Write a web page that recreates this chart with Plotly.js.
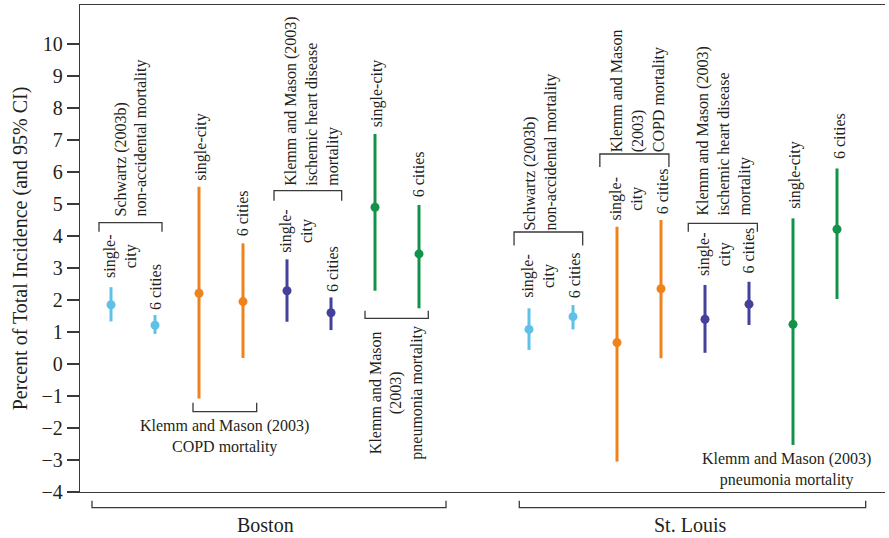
<!DOCTYPE html>
<html>
<head>
<meta charset="utf-8">
<script src="https://cdn.plot.ly/plotly-3.0.1.min.js"></script>
<style>html,body{margin:0;padding:0;background:#fff;}#chart{width:889px;height:538px;}</style>
</head>
<body>
<div id="chart"></div>
<script>
// ---- data (percent of total incidence, with 95% CI) ----
const cities = ["Boston", "St. Louis"];
const studyColors = ["#5fc1e8", "#f0821c", "#43419a", "#13924a"];
const pointLabels = ["single-<br>city", "6 cities", "single-city", "6 cities", "single-<br>city", "6 cities", "single-city", "6 cities"];
const stlPointLabels = ["single-<br>city", "6 cities", "single-<br>city", "6 cities", "single-<br>city", "6 cities", "single-city", "6 cities"];

const bostonEst  = [1.85, 1.21, 2.21, 1.95, 2.29, 1.60, 4.90, 3.44];
const bostonLow  = [1.33, 0.94, -1.08, 0.19, 1.32, 1.06, 2.29, 1.74];
const bostonHigh = [2.40, 1.53, 5.54, 3.77, 3.27, 2.08, 7.19, 4.97];

const stlEst  = [1.08, 1.48, 0.67, 2.35, 1.40, 1.87, 1.24, 4.21];
const stlLow  = [0.44, 1.08, -3.05, 0.18, 0.35, 1.22, -2.53, 2.03];
const stlHigh = [1.74, 1.84, 4.29, 4.50, 2.47, 2.57, 4.55, 6.11];

const yTicks = [-4, -3, -2, -1, 0, 1, 2, 3, 4, 5, 6, 7, 8, 9, 10];

// ---- build traces ----
const xB = bostonEst.map((_, i) => i + 1);
const xS = stlEst.map((_, i) => i + 10.5);
const traces = [];
for (let s = 0; s < 4; s++) {
  const idx = [2 * s, 2 * s + 1];
  const x = [], y = [], up = [], dn = [];
  idx.forEach(i => { x.push(xB[i]); y.push(bostonEst[i]); up.push(bostonHigh[i] - bostonEst[i]); dn.push(bostonEst[i] - bostonLow[i]); });
  idx.forEach(i => { x.push(xS[i]); y.push(stlEst[i]); up.push(stlHigh[i] - stlEst[i]); dn.push(stlEst[i] - stlLow[i]); });
  traces.push({
    type: "scatter", mode: "markers", x: x, y: y,
    marker: { color: studyColors[s], size: 9 },
    error_y: { type: "data", symmetric: false, array: up, arrayminus: dn, color: studyColors[s], thickness: 3, width: 0 },
    showlegend: false, hoverinfo: "skip", cliponaxis: false
  });
}

const txt = "#231f20";
const F = "'Liberation Serif', 'Times New Roman', serif";
const ann = [];
function lab(text, x, y, opts) {
  ann.push(Object.assign({ text: text, x: x, y: y, xref: "x", yref: "y", showarrow: false, textangle: -90,
    font: { family: F, size: 16, color: txt }, xanchor: "center", yanchor: "middle", align: "center" }, opts || {}));
}
// individual point labels
const bLabPos = [[1.205, 3.375], [2.023, 2.41], [3.04, 6.78], [4.007, 4.72], [5.227, 4.16], [6.03, 2.98], [7.05, 8.47], [8.007, 5.94]];
const sLabPos = [[10.70, 2.75], [11.52, 2.77], [12.72, 5.16], [13.54, 5.39], [14.73, 3.44], [15.48, 3.55], [16.545, 5.91], [17.545, 7.125]];
pointLabels.forEach((t, i) => lab(t, bLabPos[i][0], bLabPos[i][1]));
stlPointLabels.forEach((t, i) => lab(t, sLabPos[i][0], sLabPos[i][1]));

// group labels (above brackets)
const up = { yanchor: "bottom", align: "left" };
lab("Schwartz (2003b)<br>non-accidental mortality", 1.466, 4.55, up);
lab("Klemm and Mason (2003)<br>ischemic heart disease<br>mortality", 5.566, 5.52, up);
lab("Schwartz (2003b)<br>non-accidental mortality", 10.77, 4.12, up);
lab("Klemm and Mason<br>(2003)<br>COPD mortality", 12.97, 6.56, up);
lab("Klemm and Mason (2003)<br>ischemic heart disease<br>mortality", 14.93, 4.59, up);
// below labels
lab("Klemm and Mason (2003)<br>COPD mortality", 3.59, -2.25, { textangle: 0 });
lab("Klemm and Mason<br>(2003)<br>pneumonia mortality", 7.493, -0.906);
lab("Klemm and Mason (2003)<br>pneumonia mortality", 16.357, -3.297, { textangle: 0 });
// city labels
ann.push({ text: cities[0], xref: "x", yref: "paper", x: 4.51, y: -0.068, showarrow: false, font: { family: F, size: 20, color: txt }, xanchor: "center", yanchor: "middle" });
ann.push({ text: cities[1], xref: "x", yref: "paper", x: 14.148, y: -0.068, showarrow: false, font: { family: F, size: 20, color: txt }, xanchor: "center", yanchor: "middle" });

// brackets
const shapes = [];
const bc = { color: "#3a3a3a", width: 1.3 };
function br(x0, x1, y, yt, yref) {
  shapes.push({ type: "path", xref: yref === "paper" ? "paper" : "x", yref: yref || "y",
    path: `M ${x0},${yt} L ${x0},${y} L ${x1},${y} L ${x1},${yt}`, line: bc });
}
br(0.727, 2.159, 4.416, 4.135);
br(4.705, 6.243, 5.416, 5.103);
br(10.16, 11.72, 4.125, 3.70);
br(12.11, 13.68, 6.5625, 6.156);
br(14.12, 15.69, 4.397, 4.134);
br(2.864, 4.311, -1.49, -1.209);
br(6.773, 8.211, 1.428, 1.666);
br(0.0149, 0.4547, -0.0322, -0.0179, "paper");
br(0.5457, 0.976, -0.0322, -0.0179, "paper");

const layout = {
  width: 889, height: 538,
  margin: { l: 80, r: 4, t: 5, b: 46 },
  paper_bgcolor: "#fff", plot_bgcolor: "#fff",
  font: { family: F, color: txt },
  showlegend: false,
  xaxis: { range: [0.2955, 18.591], showgrid: false, zeroline: false, showticklabels: false, ticks: "",
    showline: true, mirror: true, linecolor: "#3a3a3a", linewidth: 1.3, fixedrange: true },
  yaxis: { range: [-4, 11.219], tickvals: yTicks, ticktext: yTicks.map(v => v < 0 ? "\u2212" + Math.abs(v) : String(v)),
    showgrid: false, zeroline: false, ticks: "outside", ticklen: 12, tickwidth: 1.3, tickcolor: "#3a3a3a",
    showline: true, linecolor: "#3a3a3a", linewidth: 1.3,
    tickfont: { family: F, size: 20, color: txt },
    title: { text: "Percent of Total Incidence (and 95% CI)", font: { family: F, size: 20, color: txt }, standoff: 8 },
    fixedrange: true },
  annotations: ann,
  shapes: shapes
};
Plotly.newPlot("chart", traces, layout, { displayModeBar: false, staticPlot: true });
</script>
</body>
</html>
